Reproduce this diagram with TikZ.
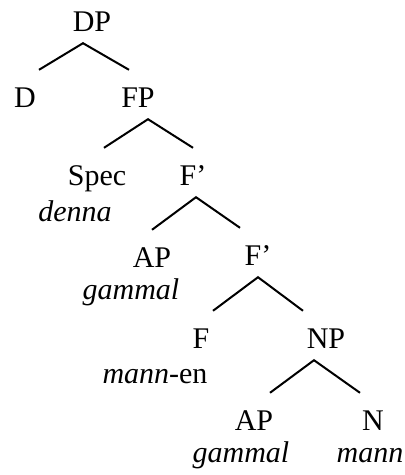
\documentclass[tikz,border=0pt]{standalone}
\usepackage{fontspec}
\setmainfont{Liberation Serif}

\tikzset{
  cat/.style={anchor=base, inner xsep=0pt, inner ysep=8pt, text height=29pt, text depth=4pt, font=\fontsize{30}{34}\selectfont},
  gloss/.style={anchor=base, inner sep=0pt, font=\fontsize{30}{34}\selectfont\itshape},
  branch/.style={line width=2pt}
}

\begin{document}
\begin{tikzpicture}[x=1pt, y=-1pt]
  \useasboundingbox (0,0) rectangle (405,475);

  \node[cat] (DP) at (92,31) {DP};
  \node[cat] (D) at (25,107) {D};
  \node[cat] (FP) at (138,107) {FP};

  \node[cat] (Spec) at (97,185) {Spec};
  \node[gloss] (denna) at (75,221) {denna};
  \node[cat] (Fb) at (193,185) {F'}; % upper F'

  \node[cat] (AP) at (152,267) {AP};
  \node[gloss] (gammal) at (131,299) {gammal};
  \node[cat] (Fc) at (258,265) {F'}; % lower F'

  \node[cat] (F) at (201,348) {F};
  \node[gloss] (mannen) at (155,383) {mann{\upshape -en}};
  \node[cat] (NP) at (326,348) {NP};

  \node[cat] (APn) at (254,430) {AP};
  \node[gloss] (gammaln) at (241,462) {gammal};
  \node[cat] (N) at (373,430) {N};
  \node[gloss] (mann) at (370,462) {mann};

  % branches
  \draw[branch] ([xshift=14pt]D.north) -- ([xshift=-9pt]DP.south) -- ([xshift=-9pt]FP.north);
  \draw[branch] ([xshift=7pt]Spec.north) -- ([xshift=10pt]FP.south) -- (Fb.north);
  \draw[branch] (AP.north) -- ([xshift=3pt]Fb.south) -- ([xshift=-18pt]Fc.north);
  \draw[branch] ([xshift=12pt]F.north) -- (Fc.south) -- ([xshift=-23pt]NP.north);
  \draw[branch] ([xshift=16pt]APn.north) -- ([xshift=-12pt]NP.south) -- ([xshift=-13pt]N.north);
\end{tikzpicture}
\end{document}
